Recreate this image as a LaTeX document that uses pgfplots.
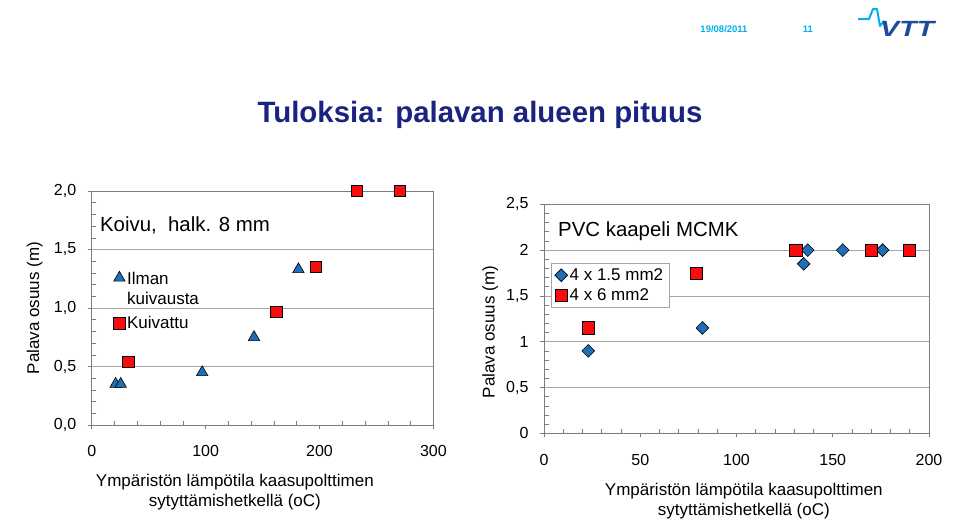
\documentclass[border=0pt]{standalone}
\usepackage{fontspec}
\setmainfont{Liberation Sans}
\usepackage{pgfplots}
\pgfplotsset{compat=1.18}

\definecolor{markblue}{RGB}{31,110,182}
\definecolor{markred}{RGB}{250,12,12}
\definecolor{titleblue}{RGB}{26,36,128}
\definecolor{headcyan}{RGB}{0,176,240}
\definecolor{vttblue}{RGB}{30,75,155}
\definecolor{gridgray}{RGB}{165,165,165}
\definecolor{axgray}{RGB}{125,125,125}

\newcommand{\fs}[2]{\fontsize{#1pt}{#2pt}\selectfont}

\pgfplotsset{
  slide/.style={
    scale only axis,
    anchor=south west,
    axis line style={axgray, line width=0.6pt},
    tick style={axgray, line width=0.6pt},
    tick align=outside,
    major tick length=4pt,
    minor tick length=-4.5pt,
    xtick pos=bottom, ytick pos=left,
    ymajorgrids,
    major grid style={gridgray, line width=0.6pt},
    tick label style={font=\fs{16}{19}},
    yticklabel style={xshift=-8pt},
    xticklabel style={yshift=-13pt},
    label style={font=\fs{17}{20}},
    /pgf/number format/assume math mode=true,
    legend cell align=left,
    legend style={font=\fs{17}{20}},
  },
  pt blue tri/.style={only marks, mark=triangle*, mark size=6.6pt,
    mark options={fill=markblue, draw=black, line width=0.6pt}},
  pt red sq/.style={only marks, mark=square*, mark size=5.7pt,
    mark options={fill=markred, draw=black, line width=0.6pt}},
  pt blue dia/.style={only marks, mark=square*, mark size=4.5pt,
    mark options={fill=markblue, draw=black, line width=0.6pt, rotate=45}},
  pt red sq2/.style={only marks, mark=square*, mark size=6.2pt,
    mark options={fill=markred, draw=black, line width=0.6pt}},
}

\begin{document}
\begin{tikzpicture}
% page frame
\path[fill=white] (0pt,0pt) rectangle (959pt,-522pt);

% header
\node[anchor=center, text=headcyan, font=\bfseries\fs{9.5}{11}] at (724pt,-29pt) {19/08/2011};
\node[anchor=center, text=headcyan, font=\bfseries\fs{9.5}{11}] at (808pt,-29pt) {11};
\draw[headcyan, line width=2pt, line join=round]
  (858pt,-19pt) -- (869pt,-19pt) -- (873pt,-9pt) -- (877pt,-9pt) -- (880pt,-26pt) -- (884pt,-21pt);
\node[anchor=west, text=vttblue, inner sep=0pt, font=\bfseries\itshape\fs{22}{24}]
  at (880pt,-29pt) {\scalebox{1.3}[1]{VTT}};

% title
\node[anchor=base, text=titleblue, inner sep=0pt, font=\bfseries\fs{29.4}{33}]
  at (480pt,-122pt) {Tuloksia: palavan alueen pituus};

% left chart
\begin{axis}[slide,
  at={(91.7pt,-425pt)},
  width=341.7pt, height=234pt,
  xmin=0, xmax=300, ymin=0, ymax=2,
  xtick={0,100,200,300},
  ytick={0,0.5,1,1.5,2},
  minor x tick num=4, minor y tick num=4,
  yticklabel style={/pgf/number format/.cd, fixed, fixed zerofill, precision=1, use comma},
  ylabel={Palava osuus (m)},
  ylabel style={at={(axis description cs:-0.167,0.5)}, anchor=center},
  xlabel={Ympäristön lämpötila kaasupolttimen\\sytyttämishetkellä (oC)},
  xlabel style={align=center, at={(axis description cs:0.419,-0.285)}, anchor=center},
  legend style={draw=none, fill=none, at={(axis description cs:0.055,0.68)}, anchor=north west,
    row sep=27pt},
]
\addplot[pt blue tri] coordinates {
  (21,0.35) (25.5,0.35) (97,0.45) (142.5,0.75) (181.5,1.33)
};
\addlegendentry{\begin{tabular}[t]{@{}l@{}}Ilman\\kuivausta\end{tabular}}
\addplot[pt red sq] coordinates {
  (32.2,0.54) (162,0.97) (196.7,1.35) (232.7,2.0) (270.7,2.0)
};
\addlegendentry{Kuivattu}
\node[anchor=base west, inner sep=0pt, font=\fs{20.4}{24}]
  at (axis description cs:0.024,0.829) {Koivu,\ \ halk. 8 mm};
\end{axis}

% right chart
\begin{axis}[slide,
  at={(544pt,-433.3pt)},
  width=385pt, height=229pt,
  xmin=0, xmax=200, ymin=0, ymax=2.5,
  xtick={0,50,100,150,200},
  ytick={0,0.5,1,1.5,2,2.5},
  minor x tick num=4, minor y tick num=4,
  yticklabel style={/pgf/number format/.cd, use comma},
  ylabel={Palava osuus (m)},
  ylabel style={at={(axis description cs:-0.140,0.442)}, anchor=center},
  xlabel={Ympäristön lämpötila kaasupolttimen\\sytyttämishetkellä (oC)},
  xlabel style={align=center, at={(axis description cs:0.519,-0.2965)}, anchor=center},
  legend style={draw=gridgray, fill=white, at={(axis description cs:0.0174,0.742)}, anchor=north west,
    inner xsep=4pt, inner ysep=3pt, row sep=2.5pt},
]
\addplot[pt blue dia] coordinates {
  (23,0.9) (82.3,1.15) (134.9,1.85) (137,2.0) (155.2,2.0) (175.9,2.0)
};
\addlegendentry{4 x 1.5 mm2}
\addplot[pt red sq2] coordinates {
  (23,1.15) (79,1.75) (130.9,2.0) (169.9,2.0) (189.8,2.0)
};
\addlegendentry{4 x 6 mm2}
\node[anchor=base west, inner sep=0pt, font=\fs{20.4}{24}]
  at (axis description cs:0.0364,0.8585) {PVC kaapeli MCMK};
\end{axis}
\end{tikzpicture}
\end{document}
